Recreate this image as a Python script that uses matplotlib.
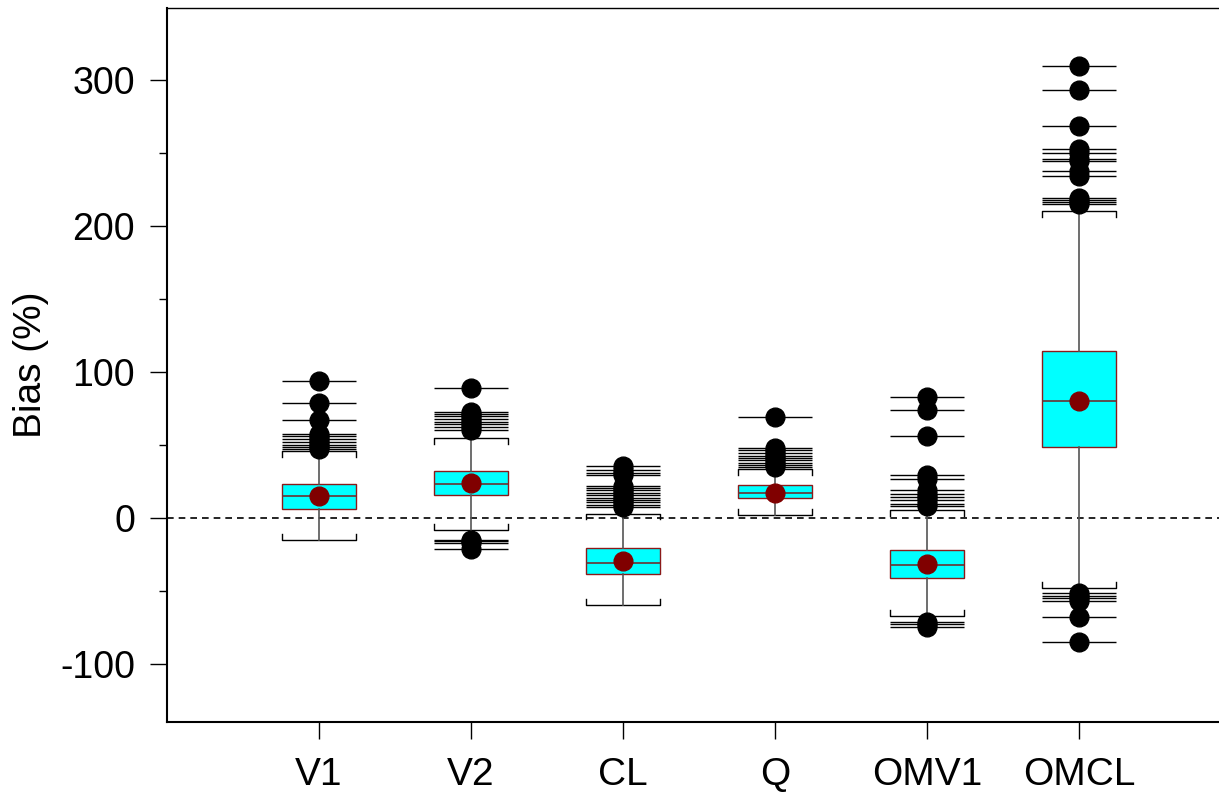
import matplotlib
matplotlib.use("Agg")
import matplotlib.pyplot as plt
from matplotlib.ticker import MultipleLocator

plt.rcParams['font.family'] = ['Liberation Sans', 'DejaVu Sans']
plt.rcParams['axes.unicode_minus'] = False

# box plot statistics (bias in %)
labels = ['V1', 'V2', 'CL', 'Q', 'OMV1', 'OMCL']
q1 = [6.2, 15.3, -38.3, 13.7, -41.2, 48.4]
med = [14.6, 23.2, -30.8, 16.9, -32.6, 80.0]
q3 = [22.8, 31.9, -20.5, 22.1, -21.9, 114.1]
means = [14.6, 23.6, -30.0, 17.0, -32.0, 80.0]
whislo = [-15.5, -8.2, -59.9, 2.0, -67.2, -48.1]
whishi = [45.3, 54.5, 2.7, 33.0, 5.0, 210.0]

out_v1 = [93.8, 78.6, 66.5, 57.4, 55.8, 53.5, 51.7, 49.9, 48.3, 47.2]
out_v2 = [88.6, 72.6, 71.1, 69.5, 67.7, 65.8, 64.2, 62.0, 59.7,
          -15.6, -16.2, -17.1, -21.6]
out_cl = [35.1, 32.8, 30.8, 28.9, 21.6, 20.3, 18.7, 17.1, 15.3, 13.7,
          12.3, 10.7, 8.9, 7.3]
out_q = [68.8, 47.8, 46.5, 44.4, 42.2, 40.8, 39.2, 37.6, 36.2, 34.6]
out_omv1 = [82.9, 73.8, 55.6, 29.4, 26.7, 18.7, 16.4, 14.1, 11.8, 9.6, 8.0,
            -71.3, -73.1, -75.2]
out_omcl = [309.6, 292.5, 268.1, 252.6, 249.9, 245.8, 244.2, 237.4, 234.0,
            219.2, 217.6, 216.2, 214.6,
            -51.9, -53.5, -54.9, -57.2, -67.9, -85.4]
outliers = [out_v1, out_v2, out_cl, out_q, out_omv1, out_omcl]

positions = list(range(1, len(labels) + 1))
width = 0.49
stub = 4.0

stats = []
for i in range(len(labels)):
    stats.append({'label': labels[i], 'q1': q1[i], 'med': med[i], 'q3': q3[i],
                  'mean': means[i], 'whislo': whislo[i], 'whishi': whishi[i],
                  'fliers': outliers[i]})

fig = plt.figure(figsize=(12.19, 7.94), dpi=100)
ax = fig.add_axes([167 / 1219, 72 / 794, 1 - 167 / 1219, 714 / 794])

# zero reference line
ax.axhline(0, color='black', lw=1.2, ls=(0, (4, 3)), zorder=1)

# horizontal line through every outlier
for p, vals in zip(positions, outliers):
    ax.hlines(vals, p - width / 2, p + width / 2, color='black', lw=1.0, zorder=2)

ax.bxp(stats, positions=positions, widths=width, patch_artist=True,
       showmeans=True, showcaps=False, showfliers=True,
       boxprops=dict(facecolor='#00ffff', edgecolor='#8b1a1a', lw=1.0),
       medianprops=dict(color='#6b3030', lw=1.2),
       whiskerprops=dict(color='#555555', lw=1.2),
       flierprops=dict(marker='o', markerfacecolor='black', markeredgecolor='black',
                       markersize=13.5),
       meanprops=dict(marker='o', markerfacecolor='#800000', markeredgecolor='#800000',
                      markersize=13.5),
       zorder=3)

# bracket caps opening towards the box
for p, lo, hi in zip(positions, whislo, whishi):
    xl, xr = p - width / 2, p + width / 2
    ax.plot([xl, xl, xr, xr], [hi - stub, hi, hi, hi - stub], color='black', lw=1.0, zorder=2)
    ax.plot([xl, xl, xr, xr], [lo + stub, lo, lo, lo + stub], color='black', lw=1.0, zorder=2)

ax.set_xlim(0, (1219 - 167) / 152)
ax.set_ylim(-140, 349)
ax.set_xticks(positions)
ax.set_xticklabels(labels, fontsize=28)
ax.yaxis.set_major_locator(MultipleLocator(100))
ax.yaxis.set_minor_locator(MultipleLocator(50))
ax.tick_params(axis='y', which='major', labelsize=27, length=12, width=1, pad=11)
ax.tick_params(axis='y', which='minor', length=6, width=1)
ax.tick_params(axis='x', which='major', length=12, width=1, pad=13)
ax.set_ylabel('Bias (%)', fontsize=28, labelpad=8)

ax.spines['right'].set_visible(False)
ax.spines['left'].set_linewidth(1.5)
ax.spines['bottom'].set_linewidth(1.5)
ax.spines['top'].set_linewidth(1.0)

fig.savefig('out.png', dpi=100)
